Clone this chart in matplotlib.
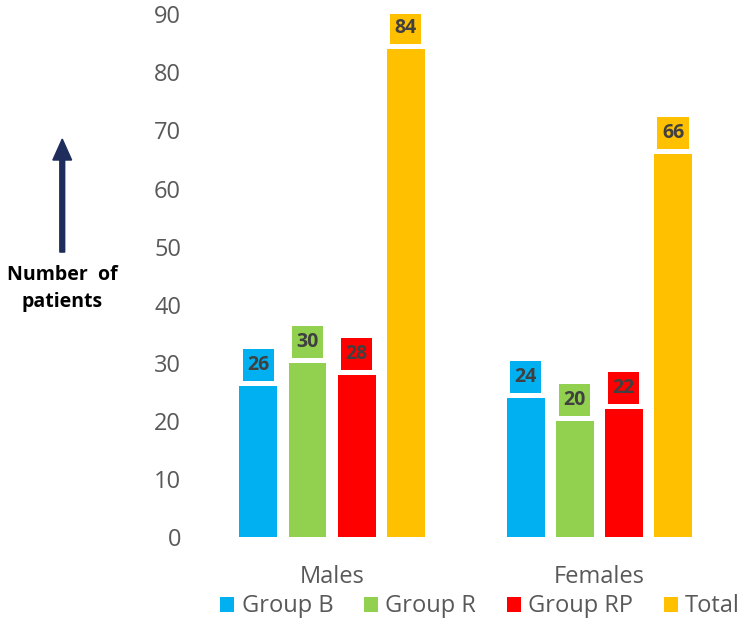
import numpy as np
import matplotlib
matplotlib.use('Agg')
import matplotlib.pyplot as plt

plt.rcParams['font.family'] = ['Open Sans', 'DejaVu Sans']

categories = ['Males', 'Females']
series_names = ['Group B', 'Group R', 'Group RP', 'Total']
group_b = [26, 24]
group_r = [30, 20]
group_rp = [28, 22]
total = [84, 66]
colors = ['#00B0F0', '#92D050', '#FF0000', '#FFC000']
yticks = [0, 10, 20, 30, 40, 50, 60, 70, 80, 90]

fig = plt.figure(figsize=(7.5, 6.35), dpi=100)
ax = fig.add_axes([0.26, 0.154, 0.73, 0.8236])

x = np.arange(len(categories))
width = 0.142
step = 0.184
all_series = [group_b, group_r, group_rp, total]

for i, (vals, name, col) in enumerate(zip(all_series, series_names, colors)):
    pos = x + (i - 1.5) * step
    ax.bar(pos, vals, width, color=col, label=name)
    # label boxes above bars
    ax.bar(pos, [5.5] * len(vals), width * 0.82, bottom=[v + 0.85 for v in vals],
           color=col)
    for p, v in zip(pos, vals):
        ax.text(p, v + 3.6, str(v), ha='center', va='center', fontsize=14,
                fontweight='bold', color='#404040')

ax.set_xlim(-0.513, 1.536)
ax.set_ylim(0, 90)
ax.set_yticks(yticks)
ax.set_xticks(x)
ax.set_xticklabels(categories)
ax.tick_params(axis='both', length=0, labelsize=17, colors='#595959')
ax.tick_params(axis='y', pad=10)
ax.tick_params(axis='x', pad=20)
for s in ax.spines.values():
    s.set_visible(False)

# y-axis label with arrow
fig.text(0.083, 0.546, 'Number  of\npatients', ha='center', va='center',
         fontsize=14, fontweight='bold', color='black', linespacing=1.5)
fig.patches.append(matplotlib.patches.FancyArrow(
    0.083, 0.603, 0, 0.178, width=0.0065, head_width=0.025, head_length=0.033,
    length_includes_head=True, color='#1F2D5C', transform=fig.transFigure))

fig.legend(loc='center', bbox_to_anchor=(0.64, 0.045), ncol=4, frameon=False,
           fontsize=17, handlelength=0.6, handleheight=0.6, handletextpad=0.3,
           columnspacing=1.3, labelcolor='#595959')

plt.savefig('out.png', dpi=100)
